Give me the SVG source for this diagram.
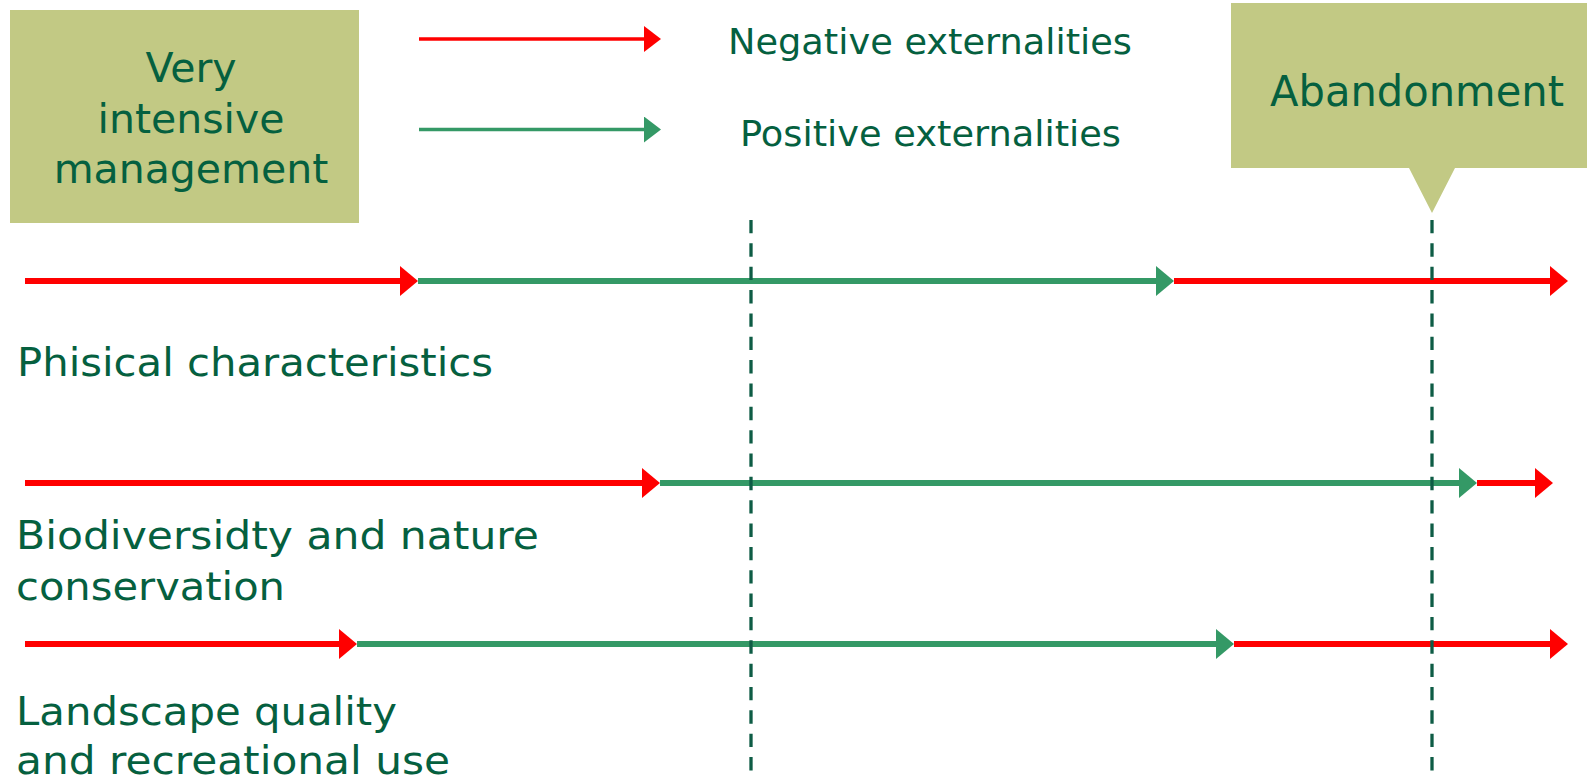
<svg xmlns="http://www.w3.org/2000/svg" width="1587" height="780" viewBox="0 0 1587 780">
<style>
  .box { fill: #C2C984; }
  .t { font-family: "DejaVu Sans", Verdana, sans-serif; fill: #05603F; }
  .neg { stroke: #FF0000; fill: none; }
  .pos { stroke: #349966; fill: none; }
  .main { stroke-width: 6; }
  .leg { stroke-width: 3.5; }
  .dash { stroke: #0E5C45; stroke-width: 3.3; stroke-dasharray: 13.35 10; fill: none; }
</style>
<defs>
  <marker id="hr" markerUnits="userSpaceOnUse" markerWidth="20" markerHeight="32" refX="0" refY="15" orient="auto" viewBox="0 0 20 32">
    <path d="M0,0 L18,15 L0,30 Z" fill="#FF0000"/>
  </marker>
  <marker id="hg" markerUnits="userSpaceOnUse" markerWidth="20" markerHeight="32" refX="0" refY="15" orient="auto" viewBox="0 0 20 32">
    <path d="M0,0 L18,15 L0,30 Z" fill="#349966"/>
  </marker>
  <marker id="lr" markerUnits="userSpaceOnUse" markerWidth="20" markerHeight="28" refX="0" refY="13" orient="auto" viewBox="0 0 20 28">
    <path d="M0,0 L17,13 L0,26 Z" fill="#FF0000"/>
  </marker>
  <marker id="lg" markerUnits="userSpaceOnUse" markerWidth="20" markerHeight="28" refX="0" refY="13" orient="auto" viewBox="0 0 20 28">
    <path d="M0,0 L17,13 L0,26 Z" fill="#349966"/>
  </marker>
</defs>

<g id="node-intensive">
  <rect class="box" x="10" y="10" width="349" height="213"/>
  <text class="t" font-size="41" text-anchor="middle" x="191" y="82">Very</text>
  <text class="t" font-size="41" text-anchor="middle" x="191" y="133">intensive</text>
  <text class="t" font-size="41" text-anchor="middle" x="191" y="183">management</text>
</g>

<g id="node-abandonment">
  <path class="box" d="M1231,3 H1587 V168 H1455 L1432,213 L1409,168 H1231 Z"/>
  <text class="t" font-size="42" x="1270" y="106" textLength="294" lengthAdjust="spacingAndGlyphs">Abandonment</text>
</g>

<g id="legend">
  <path class="neg leg" d="M419,39 H644" marker-end="url(#lr)"/>
  <path class="pos leg" d="M419,129.5 H644" marker-end="url(#lg)"/>
  <text class="t" font-size="35" x="728" y="54" textLength="404" lengthAdjust="spacingAndGlyphs">Negative externalities</text>
  <text class="t" font-size="35" x="740" y="145.5" textLength="381" lengthAdjust="spacingAndGlyphs">Positive externalities</text>
</g>

<g id="labels">
  <text class="t" font-size="39" x="17" y="376" textLength="476" lengthAdjust="spacingAndGlyphs">Phisical characteristics</text>
  <text class="t" font-size="39" x="16" y="549" textLength="523" lengthAdjust="spacingAndGlyphs">Biodiversidty and nature</text>
  <text class="t" font-size="39" x="16" y="600" textLength="269" lengthAdjust="spacingAndGlyphs">conservation</text>
  <text class="t" font-size="39" x="16" y="725" textLength="381" lengthAdjust="spacingAndGlyphs">Landscape quality</text>
  <text class="t" font-size="39" x="16" y="774" textLength="434" lengthAdjust="spacingAndGlyphs">and recreational use</text>
</g>

<g id="connectors">
  <path class="neg main" d="M25,281 H400" marker-end="url(#hr)"/>
  <path class="pos main" d="M418,281 H1156" marker-end="url(#hg)"/>
  <path class="neg main" d="M1174,281 H1550" marker-end="url(#hr)"/>

  <path class="neg main" d="M25,483 H642" marker-end="url(#hr)"/>
  <path class="pos main" d="M660,483 H1459" marker-end="url(#hg)"/>
  <path class="neg main" d="M1477,483 H1535" marker-end="url(#hr)"/>

  <path class="neg main" d="M25,644 H339" marker-end="url(#hr)"/>
  <path class="pos main" d="M357,644 H1216" marker-end="url(#hg)"/>
  <path class="neg main" d="M1234,644 H1550" marker-end="url(#hr)"/>

  <path class="dash" d="M751,220 V771"/>
  <path class="dash" d="M1432,220 V771"/>
</g>
</svg>
